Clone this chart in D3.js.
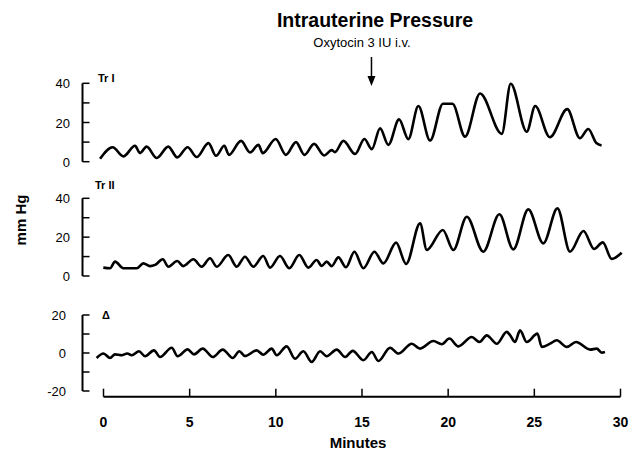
<!DOCTYPE html>
<html>
<head>
<meta charset="utf-8">
<script src="https://cdn.jsdelivr.net/npm/d3@7"></script>
<style>
  body { margin: 0; background: #fff; }
  text { font-family: "Liberation Sans", Arial, sans-serif; fill: #000; }
</style>
</head>
<body>
<div id="chart"></div>
<script>
var width = 643,
    height = 450;

// peaks and troughs: [minute, mmHg]
var trI = [[-0.2,1.5],[0.53,7.4],[1.15,2.7],[1.83,8.1],[2.12,4.4],[2.5,7.7],[3.09,1.9],[3.76,7.7],
  [4.28,2.2],[4.88,7.4],[5.41,2.4],[6.09,9.5],[6.53,3.0],[7.01,8.1],[7.28,3.5],[7.98,10.6],[8.5,4.7],
  [8.99,8.6],[9.24,4.4],[9.99,11.6],[10.59,3.5],[11.17,10],[11.66,3.5],[12.22,9.1],[12.8,3.2],
  [13.24,5.9],[13.43,4.9],[13.92,10.6],[14.6,3.9],[15.14,11.6],[15.57,6.4],[16.05,17],[16.53,8.6],
  [17.15,21.6],[17.69,11.5],[18.27,28.4],[18.95,10.8],[19.7,29.6],[20.25,29.6],[20.98,12.8],
  [21.85,34.8],[23.11,14.2],[23.63,39.8],[24.56,15.3],[25.05,28.4],[25.9,12.5],[26.91,26.8],
  [27.64,12.0],[28.13,16.7],[28.6,9.5],[28.9,8.3]];

var trII = [[-0.01,4.3],[0.38,4.0],[0.67,7.4],[1.15,4.0],[1.93,4.0],[2.31,6.5],[2.7,5.1],[2.99,5.7],
  [3.44,8.6],[3.76,4.8],[4.28,7.7],[4.63,5.1],[5.21,8.6],[5.7,4.8],[6.18,9.1],[6.57,4.8],[7.24,10.8],
  [7.73,4.8],[8.21,9.9],[8.69,4.8],[9.27,10.3],[9.66,4.3],[10.24,10.3],[10.78,4.0],[11.36,10.8],
  [11.89,4.3],[12.37,8.2],[12.66,5.2],[12.95,7.4],[13.24,5.1],[13.63,9.6],[14.07,4.5],[14.56,12.5],
  [15.08,4.0],[15.72,12.5],[16.24,6.5],[16.98,17.2],[17.56,6.2],[18.37,27.1],[18.76,13.4],
  [19.69,23.7],[20.3,13.4],[21.08,30.5],[22.04,12.5],[22.97,31.8],[23.78,13.7],[24.65,34.3],
  [25.52,16.8],[26.34,34.8],[27.07,12.5],[27.85,23.2],[28.47,13.9],[28.97,17.3],[29.49,8.8],[30.07,12.0]];

var delta = [[-0.4,-2.6],[0,-0.3],[0.38,-2.6],[0.67,-0.7],[1.05,-1.2],[1.38,-0.3],[1.64,-1.2],
  [2.06,0.9],[2.41,-1.7],[2.93,1.4],[3.28,-2.1],[3.96,2.8],[4.3,-1.7],[4.88,1.9],[5.25,-0.7],
  [5.76,2.3],[6.34,-2.1],[6.92,1.8],[7.5,-2.6],[7.88,0.9],[8.21,-1.6],[8.89,1.4],[9.27,-0.9],
  [9.76,2.3],[10.05,-1.2],[10.63,3.5],[11.11,-3.0],[11.6,0.9],[12.08,-4.7],[12.57,0.9],[12.95,-1.7],
  [13.53,1.8],[14.02,-2.1],[14.46,1.1],[15.08,-3.8],[15.57,0.5],[15.95,-4.2],[16.63,2.8],[17.11,-0.3],
  [17.89,4.9],[18.37,2.3],[19.14,6.3],[19.63,4.6],[20.07,7.6],[20.59,3.5],[21.37,8.4],[21.81,5.8],
  [22.24,9.3],[22.82,4.9],[23.4,11.1],[23.6,9.3],[23.88,5.8],[24.17,11.9],[24.56,5.8],[25.18,10.2],
  [25.43,3.2],[25.91,4.9],[26.3,6.7],[26.88,3.2],[27.42,5.8],[28.24,1.8],[28.62,2.3],[28.91,0.2],[29.1,0.5]];

var panelNames = ["Tr I", "Tr II", "\u0394"];
var panelDomains = [[0, 40], [0, 40], [-20, 20]];
var panelLabelTicks = [[0, 20, 40], [0, 20, 40], [-20, 0, 20]];
var xTicks = [0, 5, 10, 15, 20, 25, 30];

var svg = d3.select("#chart").append("svg")
  .attr("width", width)
  .attr("height", height);

var x = d3.scaleLinear().domain([0, 30]).range([103.5, 620.5]);
var axisX = 82.5;

var panels = [
  {data: trI, top: 83.3, bottom: 161.7, labelX: 70, nameX: 98, nameY: 82},
  {data: trII, top: 198.3, bottom: 276, labelX: 70, nameX: 95, nameY: 189},
  {data: delta, top: 315, bottom: 391, labelX: 66, nameX: 102, nameY: 319}
];

panels.forEach(function(p, i) {
  var y = d3.scaleLinear().domain(panelDomains[i]).range([p.bottom, p.top]);
  var g = svg.append("g");

  // axis: vertical line with ticks pointing into the plot
  g.append("line")
    .attr("x1", axisX).attr("x2", axisX)
    .attr("y1", y.range()[1]).attr("y2", y.range()[0])
    .attr("stroke", "#000").attr("stroke-width", 2);

  g.selectAll(".tk").data(y.ticks(4)).enter().append("line")
    .attr("x1", axisX).attr("x2", axisX + 7)
    .attr("y1", y).attr("y2", y)
    .attr("stroke", "#000").attr("stroke-width", 1.5);

  g.selectAll(".lb").data(panelLabelTicks[i]).enter().append("text")
    .attr("x", p.labelX)
    .attr("y", function(d) { return y(d) + 5; })
    .attr("text-anchor", "end")
    .style("font-size", "13px")
    .text(function(d) { return d; });

  g.append("text")
    .attr("x", p.nameX).attr("y", p.nameY)
    .style("font-size", "11px").style("font-weight", "bold")
    .text(panelNames[i]);

  var line = d3.line()
    .x(function(d) { return x(d[0]); })
    .y(function(d) { return y(d[1]); })
    .curve(d3.curveMonotoneX);

  g.append("path")
    .datum(p.data)
    .attr("d", line)
    .attr("fill", "none")
    .attr("stroke", "#000")
    .attr("stroke-width", 2.6)
    .attr("stroke-linejoin", "round");
});

// x axis at the bottom, ticks pointing up
var xAxisY = 396.7;
svg.append("line")
  .attr("x1", x(0)).attr("x2", x(30))
  .attr("y1", xAxisY).attr("y2", xAxisY)
  .attr("stroke", "#000").attr("stroke-width", 2);

svg.selectAll(".xt").data(xTicks).enter().append("line")
  .attr("x1", x).attr("x2", x)
  .attr("y1", xAxisY).attr("y2", xAxisY - 8)
  .attr("stroke", "#000").attr("stroke-width", 1.5);

svg.selectAll(".xl").data(xTicks).enter().append("text")
  .attr("x", x).attr("y", 427)
  .attr("text-anchor", "middle")
  .style("font-size", "14px").style("font-weight", "bold")
  .text(function(d) { return d; });

svg.append("text")
  .attr("x", 358).attr("y", 448)
  .attr("text-anchor", "middle")
  .style("font-size", "15px").style("font-weight", "bold")
  .text("Minutes");

svg.append("text")
  .attr("transform", "translate(26,220) rotate(-90)")
  .attr("text-anchor", "middle")
  .style("font-size", "15px").style("font-weight", "bold")
  .text("mm Hg");

svg.append("text")
  .attr("x", 375).attr("y", 27)
  .attr("text-anchor", "middle")
  .style("font-size", "19.5px").style("font-weight", "bold")
  .text("Intrauterine Pressure");

svg.append("text")
  .attr("x", 362).attr("y", 47)
  .attr("text-anchor", "middle")
  .style("font-size", "13px")
  .text("Oxytocin 3 IU i.v.");

// arrow for the oxytocin injection
var ax = x(15.55);
svg.append("line")
  .attr("x1", ax).attr("x2", ax)
  .attr("y1", 57).attr("y2", 78)
  .attr("stroke", "#000").attr("stroke-width", 1.5);
svg.append("path")
  .attr("d", "M" + (ax - 4) + ",76L" + (ax + 4) + ",76L" + ax + ",86Z")
  .attr("fill", "#000");
</script>
</body>
</html>
